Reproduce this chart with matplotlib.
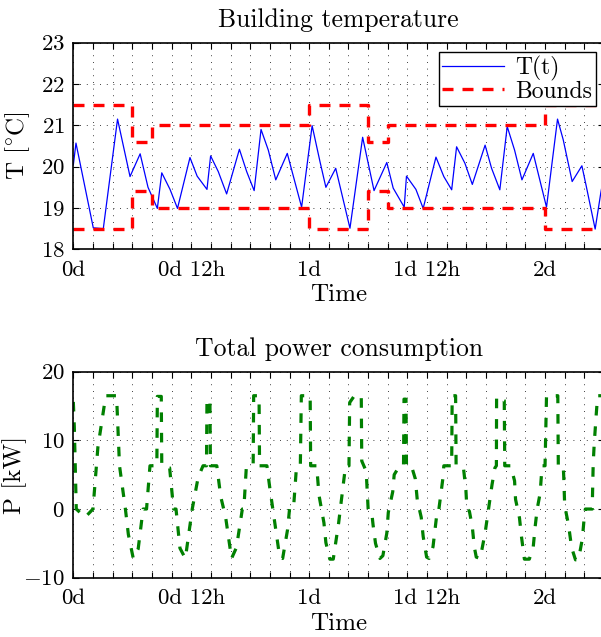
import matplotlib
matplotlib.use("Agg")
import matplotlib.pyplot as plt
from matplotlib.ticker import MultipleLocator, FixedLocator

plt.rcParams['font.family'] = ['cmr10']
plt.rcParams['mathtext.fontset'] = 'cm'
plt.rcParams['axes.formatter.use_mathtext'] = True
plt.rcParams['font.size'] = 16.5

# 건물 온도 (시간[h], 온도[°C])
temp_h = [0.0, 0.27, 2.03, 3.05, 4.5, 5.77, 6.8, 7.6, 8.55, 9.0, 9.84, 10.6,
          11.87, 12.6, 13.6, 13.97, 14.75, 15.6, 16.9, 17.64, 18.4, 19.1, 19.84,
          20.6, 21.77, 23.23, 24.3, 25.1, 25.7, 26.7, 28.15, 29.44, 30.6, 31.9,
          32.55, 33.67, 33.9, 34.86, 35.6, 36.9, 37.7, 38.5, 39.0, 39.85, 40.6,
          41.9, 42.56, 43.4, 44.15, 44.9, 45.65, 46.8, 48.15, 49.27, 49.85,
          50.76, 51.75, 52.2, 53.1, 53.67, 54.0]
temp_val = [20.04, 20.57, 18.52, 18.5, 21.15, 19.76, 20.31, 19.5, 18.99, 19.85,
            19.45, 18.99, 20.22, 19.77, 19.45, 20.26, 19.88, 19.34, 20.42, 19.88,
            19.42, 20.9, 20.4, 19.68, 20.32, 19.02, 20.99, 20.12, 19.5, 19.96,
            18.51, 20.71, 19.42, 20.1, 19.48, 19.02, 19.77, 19.45, 18.99, 20.23,
            19.76, 19.44, 20.48, 20.08, 19.57, 20.52, 19.96, 19.44, 20.97, 20.4,
            19.68, 20.32, 19.02, 21.15, 20.65, 19.64, 20.02, 19.52, 18.49, 19.36,
            19.8]

# 온도 상/하한
bound_h = [0, 6, 8, 24, 30, 32, 48, 54]
upper = [21.5, 20.6, 21.0, 21.5, 20.6, 21.0, 21.5, 21.5]
lower = [18.5, 19.4, 19.0, 18.5, 19.4, 19.0, 18.5, 18.5]

# 전체 전력 소비 (시간[h], 전력[kW])
power_h = [0.0, 0.1, 0.3, 1.2, 2.0, 2.5, 3.3, 4.4, 4.7, 5.3, 5.6, 6.1, 6.6, 7.1,
           7.45, 7.8, 8.5, 8.55, 8.95, 9.0, 9.8, 10.2, 10.45, 10.85, 11.4, 11.9,
           12.1, 12.7, 13.2, 13.55, 13.6, 13.9, 13.95, 14.6, 15.0, 15.5, 16.1,
           16.6, 17.2, 17.35, 17.6, 18.3, 18.35, 18.9, 18.95, 19.7, 20.0, 20.5,
           21.0, 21.3, 21.8, 22.0, 22.4, 22.7, 23.1, 23.2, 24.1, 24.15, 24.76,
           25.0, 25.5, 25.7, 26.1, 26.45, 27.0, 27.5, 27.7, 28.05, 28.12, 28.6,
           29.3, 29.35, 29.8, 30.0, 30.35, 30.5, 30.75, 31.2, 31.5, 31.9, 32.05,
           32.5, 32.65, 33.2, 33.6, 33.65, 33.85, 33.9, 34.4, 34.8, 35.0, 35.4,
           35.6, 35.95, 36.2, 36.6, 36.85, 37.05, 37.2, 37.6, 37.7, 38.5, 38.55,
           38.9, 38.95, 39.7, 39.95, 40.05, 40.3, 40.6, 40.8, 41.0, 41.4, 41.9,
           42.2, 42.6, 42.9, 43.05, 43.07, 43.85, 43.9, 44.5, 44.9, 45.0, 45.4,
           45.6, 45.9, 46.4, 46.8, 47.0, 47.2, 47.5, 47.7, 48.0, 48.15, 49.3,
           49.35, 49.85, 49.9, 50.0, 50.4, 50.7, 51.1, 51.4, 51.8, 52.0, 52.1,
           52.8, 52.9, 53.0, 53.2, 53.35, 54.0]
power_val = [15.6, 12.0, 0.0, -1.2, 0.0, 9.0, 16.5, 16.5, 6.3, 0.0, -3.7, -7.2,
             -5.8, 0.0, 0.0, 6.3, 6.3, 16.4, 16.4, 6.3, 6.0, 0.0, 0.0, -5.7, -7.2,
             -2.0, 0.0, 4.6, 6.3, 6.3, 15.9, 15.9, 6.3, 6.3, 1.8, -1.2, -7.2,
             -5.6, 0.0, 0.0, 6.0, 6.3, 16.5, 16.5, 6.3, 6.3, 3.0, -2.0, -7.0,
             -7.2, -3.0, 0.0, 0.0, 6.0, 6.3, 16.5, 16.5, 6.3, 6.3, 2.0, -2.0,
             -4.9, -7.3, -7.3, -2.0, 4.0, 6.3, 6.3, 15.5, 16.5, 16.5, 7.0, 5.5,
             0.0, -0.3, -2.3, -5.0, -7.2, -6.8, -3.5, -0.5, 2.5, 5.0, 6.3, 6.3,
             16.0, 16.0, 6.3, 6.3, 4.4, 1.3, -1.2, -4.0, -7.0, -7.2, -5.5, -2.4,
             0.0, 0.0, 4.4, 6.3, 6.3, 16.5, 16.5, 6.3, 6.0, 2.7, 0.0, -0.3, -2.6,
             -5.5, -7.0, -7.2, -3.5, -0.5, 3.5, 6.0, 6.3, 16.4, 15.8, 6.3, 6.3,
             4.1, 1.4, -1.3, -4.0, -7.3, -7.3, -5.5, -2.5, 0.0, 2.3, 6.3, 6.3,
             16.5, 16.5, 6.3, 6.3, 4.8, 0.5, -2.4, -5.6, -7.4, -7.4, -4.3, -1.0,
             0.0, 0.0, 6.6, 9.4, 13.6, 16.5, 16.5]

tick_h = [0, 12, 24, 36, 48]
tick_labels = ['0d', '0d 12h', '1d', '1d 12h', '2d']


def style_axes(ax):
    ax.set_xlim(0, 54)
    ax.xaxis.set_major_locator(FixedLocator(tick_h))
    ax.set_xticklabels(tick_labels)
    ax.xaxis.set_minor_locator(MultipleLocator(2))
    ax.tick_params(which='both', direction='in', top=True, right=True,
                   length=4, width=0.8)
    ax.tick_params(axis='x', which='major', pad=8)
    ax.tick_params(axis='y', which='major', pad=6)
    ax.grid(True, which='both', axis='x', color='black',
            linestyle=(0, (1, 7)), linewidth=0.6)
    ax.grid(True, which='major', axis='y', color='black',
            linestyle=(0, (1, 7)), linewidth=0.6)
    for s in ax.spines.values():
        s.set_linewidth(1.2)
    ax.set_xlabel('Time', fontsize=18, labelpad=3)


fig = plt.figure(figsize=(6.01, 6.37), dpi=100)

# 위: 건물 온도
ax1 = fig.add_axes([0.122, 0.6086, 0.883, 0.3245])
ax1.plot(temp_h, temp_val, color='blue', linewidth=0.9, label='T(t)')
ax1.step(bound_h, upper, where='post', color='red', linewidth=2.4,
         linestyle=(0, (3.3, 2.7)), label='Bounds')
ax1.step(bound_h, lower, where='post', color='red', linewidth=2.4,
         linestyle=(0, (3.3, 2.7)))
ax1.set_ylim(18, 23)
ax1.yaxis.set_major_locator(MultipleLocator(1))
style_axes(ax1)
ax1.set_ylabel(r'T [$^{\circ}$C]', fontsize=18)
ax1.yaxis.set_label_coords(-0.078, 0.5)
ax1.set_title('Building temperature', fontsize=18.5, pad=11)
leg = ax1.legend(loc='upper right', bbox_to_anchor=(0.985, 0.955),
                 fancybox=False, edgecolor='black', framealpha=1,
                 fontsize=17, handlelength=2.6, handletextpad=0.5,
                 borderpad=0.15, labelspacing=0.0, borderaxespad=0)
leg.get_frame().set_linewidth(1.0)

# 아래: 전체 전력 소비
ax2 = fig.add_axes([0.122, 0.0931, 0.883, 0.3234])
ax2.plot(power_h, power_val, color='green', linewidth=2.3,
         linestyle=(0, (3, 3.4)))
ax2.set_ylim(-10, 20)
ax2.yaxis.set_major_locator(MultipleLocator(10))
style_axes(ax2)
ax2.set_ylabel('P [kW]', fontsize=18)
ax2.yaxis.set_label_coords(-0.088, 0.5)
ax2.set_title('Total power consumption', fontsize=18.5, pad=11)

fig.savefig('out.png', dpi=100)
